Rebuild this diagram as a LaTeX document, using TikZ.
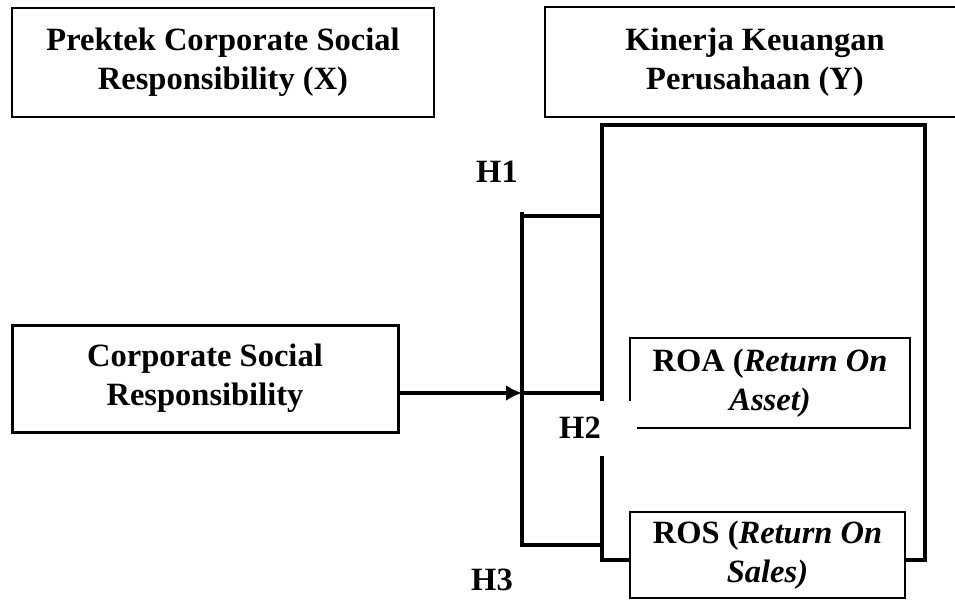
\documentclass[tikz,border=0pt]{standalone}
\usepackage{fontspec}
\setmainfont{Liberation Serif}
\usetikzlibrary{positioning,arrows.meta}

\begin{document}
\begin{tikzpicture}[x=1pt,y=-1pt,font=\fontsize{32.5}{39}\selectfont\bfseries]
    \tikzstyle{head}=[draw, line width=2pt, align=center, inner sep=0pt]
    \tikzstyle{var}=[draw, line width=3pt, align=center, inner sep=0pt]
    \tikzstyle{ind}=[draw, fill=white, line width=1.4pt, align=center, inner sep=0pt]
    \tikzstyle{link}=[line width=4pt]
    \useasboundingbox (0,0) rectangle (955,600);

    \node[head, minimum width=422pt, minimum height=109pt] (prektek) at (223,62.5) {Prektek Corporate Social\\Responsibility (X)};
    \node[head, line width=2.5pt, minimum width=420pt, minimum height=110pt] (kinerja) at (755,62) {Kinerja Keuangan\\Perusahaan (Y)};

    \node[var, line width=4pt, minimum width=323pt, minimum height=435pt] (frame) at (763.5,342.5) {};
    \node[var, minimum width=386pt, minimum height=107pt] (csr) at (205,378.5) {Corporate Social\\Responsibility};
    \node[ind, minimum width=280pt, minimum height=90pt] (roa) at (770,383) {ROA (\textit{Return On}\\\textit{Asset)}};
    \node[ind, minimum width=275pt, minimum height=86pt] (ros) at (767.5,555) {ROS (\textit{Return On}\\\textit{Sales)}};

    % bracket
    \coordinate (b1) at (522,216);
    \coordinate (b2) at (522,393);
    \coordinate (b3) at (522,545);
    \draw[link] (522,212) -- (522,547);
    \draw[link] (b1) -- (b1 -| frame.west);
    \draw[link] (b2) -- (b2 -| frame.west);
    \draw[link] (b3) -- (b3 -| frame.west);
    \draw[line width=3.5pt,-{Latex[length=16pt,width=16pt]}] (csr.east |- b2) -- (b2);

    \node (h1) at (497,172) {H1};
    \node (h3) at (492,580) {H3};
    \node[fill=white, minimum width=97pt, minimum height=55pt, inner sep=0pt] (h2) at (588,428) {\raisebox{-4pt}{H2}\hspace*{16pt}};
\end{tikzpicture}
\end{document}
